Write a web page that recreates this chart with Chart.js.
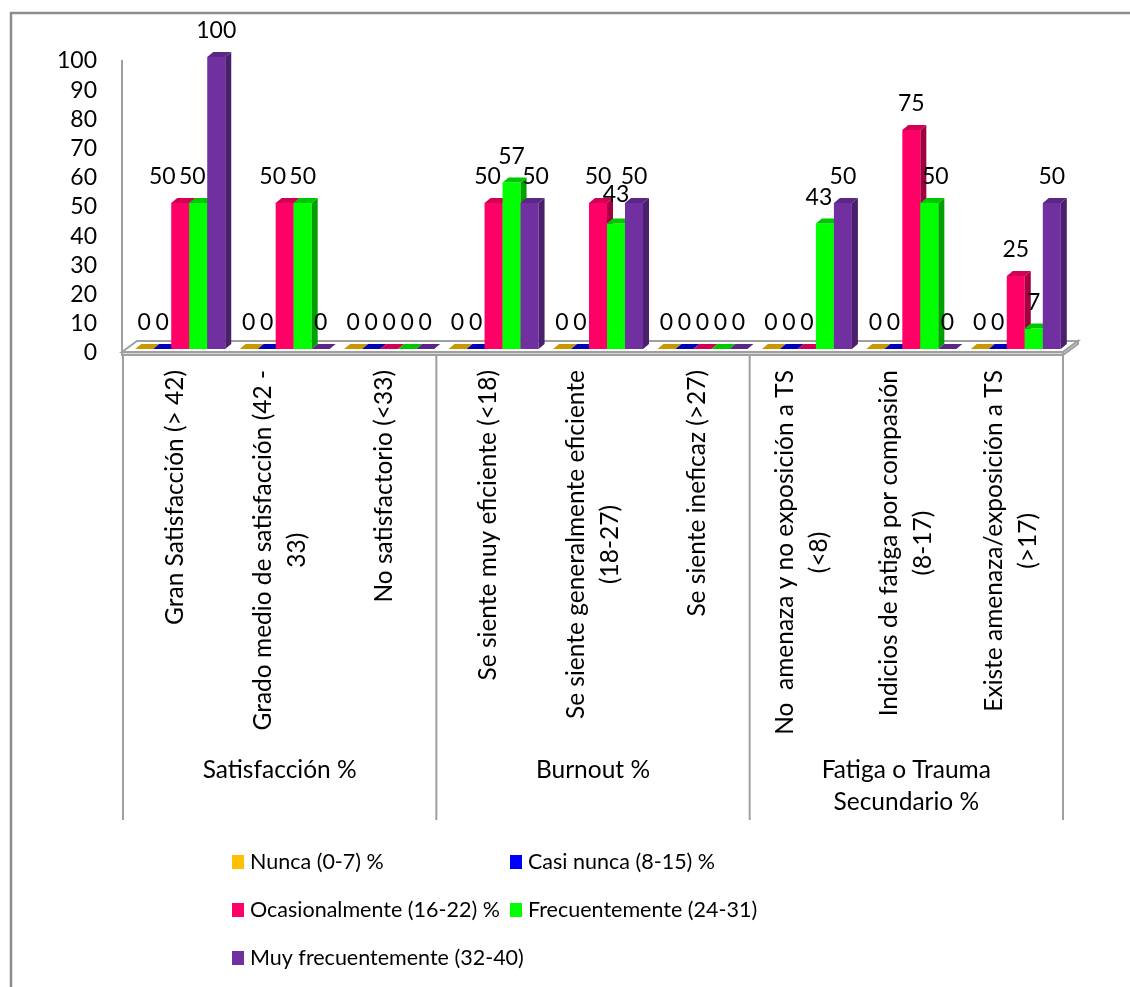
<!DOCTYPE html>
<html>
<head>
<meta charset="utf-8">
<script src="https://cdn.jsdelivr.net/npm/chart.js@4.4.1/dist/chart.umd.min.js"></script>
<style>
  html, body { margin: 0; padding: 0; background: #fff; }
  canvas { display: block; }
</style>
</head>
<body>
<canvas id="chart" width="1130" height="987"></canvas>
<script>
// Category labels (one entry per line of the rotated label)
const categories = [
  ['Gran Satisfacción (> 42)'],
  ['Grado medio de satisfacción (42 -', '33)'],
  ['No satisfactorio (<33)'],
  ['Se siente muy eficiente (<18)'],
  ['Se siente generalmente eficiente', '(18-27)'],
  ['Se siente ineficaz (>27)'],
  ['No  amenaza y no exposición a TS', '(<8)'],
  ['Indicios de fatiga por compasión', '(8-17)'],
  ['Existe amenaza/exposición a TS', '(>17)']
];

// Outer category level: each group spans three categories
const groups = [
  ['Satisfacción %'],
  ['Burnout %'],
  ['Fatiga o Trauma', 'Secundario %']
];
const groupSize = 3;

const seriesNames = [
  'Nunca (0-7) %',
  'Casi nunca (8-15) %',
  'Ocasionalmente (16-22) %',
  'Frecuentemente (24-31)',
  'Muy frecuentemente (32-40)'
];

const nunca             = [0, 0, 0, 0, 0, 0, 0, 0, 0];
const casiNunca         = [0, 0, 0, 0, 0, 0, 0, 0, 0];
const ocasionalmente    = [50, 50, 0, 50, 50, 0, 0, 75, 25];
const frecuentemente    = [50, 50, 0, 57, 43, 0, 43, 50, 7];
const muyFrecuentemente = [100, 0, 0, 50, 50, 0, 50, 0, 50];

const seriesValues = [nunca, casiNunca, ocasionalmente, frecuentemente, muyFrecuentemente];

// Face colours for the extruded bars: front, top, right side
const frontColors = ['#FFC000', '#0000FF', '#FF0066', '#00FF00', '#7030A0'];
const topColors   = ['#C99700', '#0000B8', '#D10054', '#00C800', '#5B2785'];
const sideColors  = ['#A67C00', '#000090', '#A30042', '#00A000', '#4A1F6B'];

const FONT = 'Lato, "Open Sans", sans-serif';
const TEXT_SIZE = 24.5;
const LEGEND_SIZE = 21.5;
const NUM_SIZE = 23;
const DX = 6, DY = 5;          // bar extrusion
const FRONT_SHIFT = 5;         // floor front plane sits left of the bars
const FLOOR_DX = 15, FLOOR_DY = 11;
const GRAY = '#a0a0a0';

function boxesOverlap(a, b) {
  return a.x0 < b.x1 && a.x1 > b.x0 && a.y0 < b.y1 && a.y1 > b.y0;
}

function barProps(chart, ds, idx) {
  return chart.getDatasetMeta(ds).data[idx].getProps(['x', 'y', 'base', 'width'], true);
}

const depthPlugin = {
  id: 'depth3d',
  beforeDraw(chart) {
    const ctx = chart.ctx;
    ctx.save();
    ctx.fillStyle = '#fff';
    ctx.fillRect(0, 0, chart.width, chart.height);
    // chart frame (continues past the right and bottom edges)
    ctx.strokeStyle = '#8c8c8c';
    ctx.lineWidth = 2.5;
    ctx.beginPath();
    ctx.moveTo(11, chart.height + 5);
    ctx.lineTo(11, 13);
    ctx.lineTo(chart.width + 5, 13);
    ctx.stroke();
    ctx.restore();
  },
  beforeDatasetsDraw(chart) {
    const { ctx, scales: { x, y } } = chart;
    const base = y.getPixelForValue(0);
    const fy = base + 3;
    const fl = x.left - FRONT_SHIFT - 1;
    const fr = x.right - FRONT_SHIFT;
    ctx.save();
    // value axis line
    ctx.strokeStyle = GRAY;
    ctx.lineWidth = 2;
    ctx.beginPath();
    ctx.moveTo(fl, y.top + 3);
    ctx.lineTo(fl, fy);
    ctx.stroke();
    // floor slab
    ctx.fillStyle = '#ffffff';
    ctx.beginPath();
    ctx.moveTo(fl, fy);
    ctx.lineTo(fr, fy);
    ctx.lineTo(fr + FLOOR_DX, fy - FLOOR_DY);
    ctx.lineTo(fl + FLOOR_DX, fy - FLOOR_DY);
    ctx.closePath();
    ctx.fill();
    ctx.stroke();
    ctx.fillStyle = '#d9d9d9';
    ctx.beginPath();
    ctx.moveTo(fl, fy); ctx.lineTo(fr, fy); ctx.lineTo(fr, fy + 3); ctx.lineTo(fl, fy + 3);
    ctx.closePath(); ctx.fill(); ctx.stroke();
    ctx.beginPath();
    ctx.moveTo(fr, fy); ctx.lineTo(fr + FLOOR_DX, fy - FLOOR_DY);
    ctx.lineTo(fr + FLOOR_DX, fy - FLOOR_DY + 3); ctx.lineTo(fr, fy + 3);
    ctx.closePath(); ctx.fill(); ctx.stroke();
    ctx.restore();
  },
  afterDatasetsDraw(chart) {
    const ctx = chart.ctx;
    ctx.save();
    // extruded bars, left to right inside each category so that the
    // front of each bar hides the side of its left neighbour
    categories.forEach((_, c) => {
      seriesValues.forEach((vals, i) => {
        const { x, y, base, width } = barProps(chart, i, c);
        const x0 = x - width / 2, x1 = x + width / 2;
        if (base - y > 0.5) {
          ctx.fillStyle = frontColors[i];
          ctx.fillRect(x0, y, width, base - y);
          ctx.fillStyle = sideColors[i];
          ctx.beginPath();
          ctx.moveTo(x1, base);
          ctx.lineTo(x1, y);
          ctx.lineTo(x1 + DX, y - DY);
          ctx.lineTo(x1 + DX, base - DY);
          ctx.closePath();
          ctx.fill();
        }
        ctx.fillStyle = topColors[i];
        ctx.beginPath();
        ctx.moveTo(x0, y);
        ctx.lineTo(x1, y);
        ctx.lineTo(x1 + DX, y - DY);
        ctx.lineTo(x0 + DX, y - DY);
        ctx.closePath();
        ctx.fill();
      });
    });

    // value labels above every bar, nudged so they do not collide
    ctx.font = NUM_SIZE + 'px ' + FONT;
    ctx.fillStyle = '#000';
    ctx.textAlign = 'center';
    ctx.textBaseline = 'middle';
    const candidates = [];
    for (let dy = 0; dy >= -20; dy--) {
      for (let dx = -30; dx <= 30; dx++) {
        candidates.push({ dx, dy, cost: Math.abs(dx) + 2.5 * Math.abs(dy) });
      }
    }
    candidates.sort((a, b) => a.cost - b.cost);
    categories.forEach((_, c) => {
      const bars = seriesValues.map((s, i) => barProps(chart, i, c));
      const obstacles = bars
        .filter(b => b.base - b.y > 0.5)
        .map(b => ({ x0: b.x - b.width / 2, x1: b.x + b.width / 2, y0: b.y, y1: b.base }));
      const order = seriesValues.map((s, i) => i)
        .sort((a, b) => (seriesValues[b][c] - seriesValues[a][c]) || (b - a));
      const placed = [];
      order.forEach(i => {
        const text = String(seriesValues[i][c]);
        const w = ctx.measureText(text).width;
        const cx = bars[i].x, cy = bars[i].y - 26;
        const boxAt = (dx, dy) => ({
          x0: cx + dx - w / 2 - 1.5, x1: cx + dx + w / 2 + 1.5,
          y0: cy + dy - 8, y1: cy + dy + 8
        });
        let pick = { dx: 0, dy: 0 };
        for (const cand of candidates) {
          const b = boxAt(cand.dx, cand.dy);
          if (placed.some(p => boxesOverlap(p, b))) continue;
          if (obstacles.some(o => boxesOverlap(o, b))) continue;
          pick = cand;
          break;
        }
        placed.push(boxAt(pick.dx, pick.dy));
        ctx.fillText(text, cx + pick.dx, cy + pick.dy);
      });
    });
    ctx.restore();
  },
  afterDraw(chart) {
    const { ctx, scales: { x, y } } = chart;
    const base = y.getPixelForValue(0);
    const n = categories.length;
    const step = x.width / n;
    const frontX = i => x.getPixelForValue(i) - FRONT_SHIFT;
    ctx.save();
    // group separators
    ctx.strokeStyle = GRAY;
    ctx.lineWidth = 2;
    for (let g = 0; g <= groups.length; g++) {
      const px = g * groupSize >= n ? frontX(n - 1) + step / 2 : frontX(g * groupSize) - step / 2;
      ctx.beginPath();
      ctx.moveTo(px, base + 6);
      ctx.lineTo(px, 820);
      ctx.stroke();
    }
    // rotated category labels
    ctx.fillStyle = '#000';
    ctx.font = TEXT_SIZE + 'px ' + FONT;
    ctx.textBaseline = 'middle';
    ctx.textAlign = 'center';
    const lh = 34;
    categories.forEach((lines, i) => {
      const maxW = Math.max(...lines.map(l => ctx.measureText(l).width));
      ctx.save();
      ctx.translate(frontX(i), 370);
      ctx.rotate(-Math.PI / 2);
      lines.forEach((l, j) => {
        ctx.fillText(l, -maxW / 2, (j - (lines.length - 1) / 2) * lh);
      });
      ctx.restore();
    });
    // group labels
    groups.forEach((lines, g) => {
      const first = g * groupSize, last = Math.min(n - 1, first + groupSize - 1);
      const cx = (frontX(first) + frontX(last)) / 2;
      lines.forEach((l, j) => ctx.fillText(l, cx, 770 + j * 32));
    });
    // legend: two columns
    ctx.font = LEGEND_SIZE + 'px ' + FONT;
    ctx.textAlign = 'left';
    const colX = [232, 510];
    const rowY = [862, 910, 958];
    seriesNames.forEach((name, i) => {
      const sx = colX[i % 2], sy = rowY[Math.floor(i / 2)];
      ctx.fillStyle = frontColors[i];
      ctx.fillRect(sx, sy - 7, 12, 14);
      ctx.fillStyle = '#000';
      ctx.fillText(name, sx + 18, sy);
    });
    ctx.restore();
  }
};

new Chart(document.getElementById('chart'), {
  type: 'bar',
  data: {
    labels: categories.map(c => c.join(' ')),
    datasets: seriesValues.map((vals, i) => ({
      label: seriesNames[i],
      data: vals,
      // faces are painted by the depth3d plugin
      backgroundColor: 'rgba(0,0,0,0)',
      borderWidth: 0,
      categoryPercentage: 0.862,
      barPercentage: 1,
      clip: false
    }))
  },
  options: {
    responsive: false,
    animation: false,
    devicePixelRatio: 1,
    layout: { padding: { left: 0, top: 57, right: 62, bottom: 638 } },
    scales: {
      x: { display: false },
      y: {
        min: 0,
        max: 100,
        afterFit: s => { s.width = 128; },
        border: { display: false },
        grid: { display: false, drawTicks: false },
        ticks: {
          stepSize: 10,
          autoSkip: false,
          padding: 31,
          labelOffset: 4,
          color: '#000',
          font: { family: FONT, size: NUM_SIZE }
        }
      }
    },
    plugins: {
      legend: { display: false },
      tooltip: { enabled: false }
    }
  },
  plugins: [depthPlugin]
});
</script>
</body>
</html>
